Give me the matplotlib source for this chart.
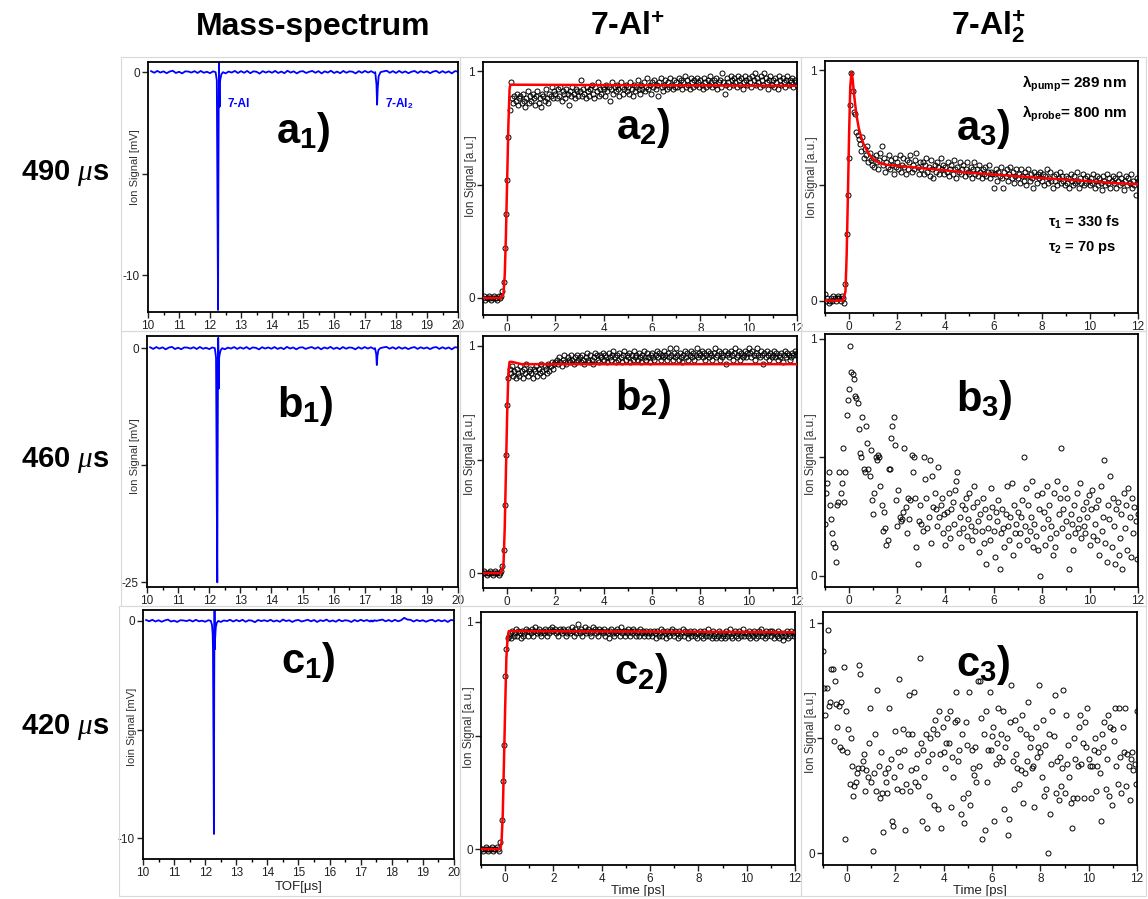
import numpy as np
import matplotlib
matplotlib.use("Agg")
import matplotlib.pyplot as plt
from matplotlib.ticker import MultipleLocator, FixedLocator, FixedFormatter
from matplotlib.patches import Rectangle

# ====== data ======
# pump-probe delay scan (ps), one sample every 0.05 ps
DELAY_PS = np.linspace(-1.0, 12.0, 261)

# ion signal in % of max, 20 values per ps
A2_SIGNAL_PCT = [
    0, 1, -1, 0, 0, 1, 0, -1, 0, 1, 0, 0, -1, 1, 0, 1, 3, 7, 22, 37,
    52, 71, 83, 95, 88, 86, 89, 87, 90, 85, 88, 89, 86, 90, 87, 84, 88, 91, 86, 89,
    87, 90, 88, 85, 89, 91, 86, 88, 84, 90, 89, 87, 92, 88, 86, 90, 89, 93, 88, 91,
    90, 88, 92, 89, 93, 87, 91, 90, 88, 92, 90, 85, 91, 89, 93, 90, 88, 92, 91, 89,
    91, 96, 89, 92, 90, 88, 93, 91, 89, 92, 94, 90, 88, 93, 91, 95, 89, 92, 90, 93,
    92, 89, 94, 91, 93, 87, 92, 95, 90, 93, 91, 94, 92, 89, 95, 93, 90, 92, 94, 91,
    93, 90, 95, 92, 89, 94, 91, 93, 96, 92, 90, 94, 92, 95, 91, 93, 97, 92, 94, 90,
    95, 93, 96, 92, 94, 89, 95, 97, 93, 91, 94, 96, 92, 95, 93, 97, 94, 92, 96, 93,
    95, 93, 97, 94, 96, 92, 95, 98, 93, 96, 94, 92, 97, 95, 93, 96, 94, 97, 95, 93,
    96, 94, 92, 97, 95, 93, 96, 94, 98, 95, 93, 96, 94, 97, 92, 95, 96, 93, 99, 95,
    90, 94, 97, 95, 93, 98, 96, 94, 97, 95, 93, 98, 96, 94, 97, 92, 95, 98, 96, 94,
    97, 95, 93, 98, 96, 99, 94, 97, 95, 93, 98, 96, 94, 99, 97, 95, 92, 96, 98, 94,
    96, 93, 97, 95, 92, 98, 96, 94, 97, 95, 93, 96, 98, 94, 96, 95, 97, 93, 96, 95,
    94,
]
B2_SIGNAL_PCT = [
    0, 1, 0, -1, 0, 0, 1, 0, -1, 0, 1, 0, 0, -1, 0, 1, 3, 10, 30, 52,
    74, 86, 90, 88, 91, 87, 89, 86, 90, 88, 87, 91, 89, 86, 90, 88, 92, 87, 89, 90,
    88, 86, 90, 89, 91, 87, 90, 88, 92, 89, 87, 91, 90, 88, 92, 89, 91, 93, 90, 92,
    93, 94, 92, 95, 93, 91, 94, 96, 93, 92, 95, 94, 93, 96, 94, 92, 95, 93, 96, 94,
    95, 93, 96, 94, 92, 95, 97, 94, 93, 96, 94, 92, 95, 97, 96, 94, 93, 96, 95, 97,
    94, 96, 95, 93, 97, 95, 94, 96, 98, 95, 93, 96, 94, 97, 95, 93, 96, 98, 94, 96,
    95, 97, 93, 96, 94, 98, 95, 96, 94, 97, 95, 93, 96, 98, 95, 94, 97, 95, 93, 96,
    97, 95, 94, 96, 98, 95, 97, 94, 96, 95, 98, 96, 94, 97, 95, 99, 96, 94, 97, 95,
    99, 96, 94, 97, 95, 93, 96, 98, 95, 97, 94, 96, 98, 95, 97, 94, 96, 99, 95, 97,
    96, 98, 95, 97, 94, 96, 98, 95, 97, 96, 94, 97, 99, 95, 96, 98, 94, 97, 95, 96,
    98, 92, 96, 97, 95, 98, 96, 94, 97, 99, 95, 96, 98, 94, 97, 95, 96, 98, 95, 97,
    99, 97, 95, 98, 96, 94, 97, 99, 96, 95, 98, 96, 92, 97, 95, 98, 96, 94, 97, 95,
    96, 98, 95, 97, 94, 96, 95, 97, 93, 96, 98, 95, 97, 96, 94, 95, 97, 96, 98, 96,
    97,
]
C2_SIGNAL_PCT = [
    0, 0, -1, 0, 1, 0, -1, 0, 0, 1, -1, 0, 0, 1, 0, -1, 3, 13, 30, 46,
    76, 88, 93, 94, 95, 93, 96, 94, 95, 97, 94, 96, 95, 93, 96, 94, 95, 97, 96, 94,
    96, 95, 97, 94, 96, 98, 95, 96, 97, 95, 94, 96, 95, 97, 96, 94, 95, 97, 96, 98,
    96, 97, 95, 96, 94, 97, 96, 95, 97, 96, 94, 95, 97, 96, 95, 98, 96, 94, 97, 95,
    99, 96, 95, 97, 94, 96, 98, 95, 96, 97, 95, 94, 96, 98, 97, 95, 96, 94, 97, 96,
    96, 95, 97, 94, 96, 95, 93, 96, 97, 95, 94, 96, 95, 97, 96, 94, 98, 95, 96, 94,
    96, 95, 97, 94, 96, 95, 97, 96, 94, 95, 96, 94, 97, 95, 96, 94, 95, 96, 94, 95,
    96, 95, 94, 96, 95, 93, 96, 94, 95, 97, 94, 96, 95, 93, 96, 95, 94, 96, 97, 95,
    94, 96, 95, 93, 96, 94, 95, 97, 94, 96, 95, 93, 95, 96, 94, 95, 96, 94, 95, 93,
    95, 96, 94, 95, 93, 96, 94, 95, 97, 94, 95, 93, 96, 94, 95, 93, 94, 96, 95, 93,
    94, 95, 93, 96, 94, 95, 97, 94, 93, 95, 96, 94, 95, 93, 96, 94, 95, 97, 94, 95,
    95, 94, 96, 93, 95, 94, 96, 95, 93, 94, 96, 95, 97, 94, 95, 93, 96, 94, 95, 96,
    94, 96, 95, 93, 95, 94, 96, 93, 95, 94, 92, 95, 94, 96, 93, 95, 94, 96, 95, 94,
    95,
]
A3_SIGNAL_PCT = [
    3, 0, 1, -1, 0, 1, 0, 2, 1, 0, 1, 2, 1, 0, 2, 1, -1, 7, 29, 46,
    62, 85, 99, 91, 82, 81, 73, 72, 70, 68, 65, 71, 62, 66, 63, 67, 60, 64, 61, 59,
    62, 58, 63, 60, 57, 61, 64, 67, 59, 62, 56, 60, 58, 63, 57, 61, 59, 55, 62, 58,
    60, 57, 63, 56, 59, 62, 58, 55, 61, 57, 60, 63, 56, 59, 57, 61, 64, 58, 55, 60,
    57, 60, 55, 59, 62, 56, 58, 54, 61, 57, 53, 59, 56, 60, 58, 55, 62, 57, 59, 55,
    58, 56, 60, 54, 57, 59, 55, 61, 57, 53, 58, 56, 60, 55, 57, 59, 54, 57, 60, 56,
    55, 58, 53, 57, 60, 55, 57, 54, 59, 56, 53, 57, 55, 58, 54, 56, 59, 53, 56, 55,
    49, 55, 57, 52, 56, 54, 58, 53, 49, 56, 54, 57, 52, 55, 58, 53, 56, 51, 54, 57,
    53, 55, 51, 57, 54, 52, 56, 50, 54, 57, 52, 55, 53, 49, 56, 54, 51, 55, 53, 56,
    52, 55, 50, 54, 57, 51, 53, 56, 52, 49, 54, 52, 55, 50, 53, 56, 51, 54, 52, 50,
    54, 51, 53, 49, 55, 52, 50, 54, 51, 56, 52, 49, 53, 51, 55, 50, 53, 51, 54, 52,
    50, 53, 51, 55, 49, 52, 54, 50, 53, 51, 48, 54, 52, 50, 55, 51, 53, 49, 52, 54,
    51, 53, 49, 52, 55, 50, 53, 51, 48, 52, 54, 50, 53, 51, 55, 49, 52, 50, 46, 53,
    52,
]
B3_SIGNAL_PCT = [
    22, 35, 39, 44, 30, 24, 18, 14, 12, 6, 30, 31, 44, 35, 39, 54, 31, 44, 68, 74,
    79, 97, 86, 85, 83, 76, 75, 73, 62, 52, 50, 67, 45, 44, 63, 56, 45, 42, 53, 32,
    26, 35, 50, 49, 51, 50, 38, 30, 19, 27, 20, 13, 15, 45, 45, 58, 63, 67, 55, 32,
    21, 36, 25, 23, 24, 27, 54, 29, 18, 33, 24, 32, 51, 44, 50, 33, 12, 5, 23, 30,
    22, 19, 50, 41, 33, 20, 25, 49, 14, 42, 29, 35, 28, 21, 46, 25, 30, 33, 18, 26,
    13, 27, 20, 35, 16, 28, 31, 22, 36, 40, 44, 18, 25, 12, 30, 20, 28, 33, 17, 24,
    35, 21, 15, 29, 38, 19, 31, 23, 10, 26, 19, 33, 14, 28, 5, 20, 25, 15, 37, 29,
    19, 8, 27, 23, 32, 3, 18, 28, 20, 12, 26, 38, 21, 15, 25, 39, 9, 30, 18, 22,
    27, 13, 18, 25, 32, 50, 21, 37, 15, 30, 19, 25, 40, 12, 22, 17, 34, 11, 28, 0,
    35, 20, 27, 13, 38, 24, 30, 16, 21, 9, 35, 12, 18, 40, 26, 33, 54, 20, 28, 37,
    23, 33, 17, 3, 26, 22, 11, 30, 18, 35, 20, 24, 39, 16, 28, 21, 18, 31, 25, 34,
    13, 28, 36, 17, 22, 29, 15, 32, 9, 38, 19, 25, 49, 14, 6, 30, 24, 42, 12, 33,
    21, 5, 28, 31, 9, 16, 26, 3, 35, 20, 30, 11, 37, 25, 8, 33, 18, 29, 23, 7,
    26,
]
C3_SIGNAL_PCT = [
    88, 72, 60, 72, 97, 64, 66, 80, 80, 49, 75, 65, 55, 64, 46, 66, 45, 81, 6, 62,
    44, 54, 30, 50, 38, 25, 29, 31, 35, 37, 82, 78, 37, 40, 43, 27, 36, 33, 48, 63,
    31, 1, 35, 52, 27, 71, 38, 24, 44, 26, 9, 35, 31, 26, 37, 63, 41, 14, 12, 33,
    53, 28, 44, 76, 38, 27, 54, 45, 10, 30, 52, 69, 27, 36, 52, 70, 31, 37, 43, 29,
    85, 48, 14, 45, 33, 52, 11, 40, 25, 50, 43, 54, 21, 58, 52, 19, 62, 43, 11, 55,
    44, 37, 48, 59, 48, 62, 20, 42, 33, 57, 70, 58, 40, 45, 17, 52, 24, 13, 57, 47,
    26, 70, 21, 45, 37, 34, 46, 31, 75, 38, 75, 59, 6, 52, 10, 62, 31, 45, 70, 45,
    51, 55, 14, 39, 48, 63, 42, 52, 40, 62, 19, 46, 50, 8, 15, 57, 73, 40, 28, 58,
    43, 37, 30, 54, 36, 60, 22, 35, 52, 40, 66, 46, 50, 37, 38, 20, 55, 42, 46, 73,
    44, 33, 58, 25, 47, 28, 0, 52, 17, 39, 62, 51, 69, 26, 40, 23, 42, 29, 37, 71,
    26, 60, 39, 47, 33, 22, 11, 24, 50, 41, 24, 38, 55, 60, 39, 48, 24, 57, 46, 63,
    41, 38, 24, 38, 45, 50, 27, 38, 44, 35, 14, 52, 46, 57, 28, 41, 60, 25, 55, 21,
    54, 49, 63, 38, 30, 63, 42, 26, 55, 44, 63, 29, 43, 38, 23, 41, 44, 36, 39, 30,
    62,
]

A2_FIT_T = [-1, -0.25, -0.15, -0.1, -0.05, 0, 0.05, 0.1, 0.13, 12]
A2_FIT_Y = [0, 0, 0.02, 0.10, 0.28, 0.52, 0.76, 0.92, 0.94, 0.935]
B2_FIT_T = [-1, -0.25, -0.15, -0.1, -0.05, 0, 0.05, 0.1, 0.2, 0.6, 12]
B2_FIT_Y = [0, 0, 0.04, 0.20, 0.45, 0.70, 0.88, 0.93, 0.93, 0.92, 0.92]
C2_FIT_T = [-1, -0.2, -0.15, -0.1, -0.05, 0, 0.05, 0.1, 0.15, 12]
C2_FIT_Y = [0, 0, 0.03, 0.15, 0.38, 0.62, 0.84, 0.93, 0.96, 0.955]
A3_FIT_T = [-1, -0.25, -0.15, -0.1, -0.05, 0, 0.05, 0.1, 0.15, 0.2, 0.3, 0.4, 0.5,
            0.6, 0.8, 1.0, 1.2, 1.5, 2, 3, 4, 5, 6, 7, 8, 9, 10, 11, 12]
A3_FIT_Y = [0, 0, 0.04, 0.20, 0.45, 0.72, 0.93, 0.99, 0.96, 0.90, 0.81, 0.75, 0.71,
            0.68, 0.64, 0.615, 0.60, 0.59, 0.585, 0.575, 0.565, 0.555, 0.547, 0.54,
            0.532, 0.525, 0.518, 0.51, 0.505]

# mass spectra: baseline every 0.1 us (in 0.01 mV) + the two peaks (mV)
MS_TOF = np.round(np.arange(10.1, 20.05, 0.1), 2)
A1_BASE = [
    5, -3, 6, -2, 4, -5, 3, 7, -4, 2, -6, 4, 3, -2, 5, -4, 6, -3, 2, -5,
    4, 8, -3, 5, -6, 3, -2, 6, -4, 5, -3, 6, -5, 4, 2, -7, 5, -2, 4, -3,
    6, -4, 3, -5, 7, -2, 4, -6, 3, 5, -4, 2, 6, -3, 5, -6, 4, -2, 7, -4,
    3, -5, 6, -3, 4, 2, -6, 5, -3, 6, -2, 5, -4, 3, -6, 4, 7, -3, 5, -4,
    6, -3, 4, -5, 2, 6, -4, 5, -2, 4, -5, 3, 6, -4, 5, -3, 4, -6, 5, 3,
]
B1_BASE = [
    10, -8, 12, -5, 9, -12, 6, 14, -9, 5, -11, 8, 6, -4, 10, -9, 13, -6, 4, -10,
    8, 15, -6, 10, -12, 6, -4, 12, -8, 9, -6, 12, -10, 8, 4, -13, 10, -4, 8, -6,
    12, -8, 6, -10, 14, -4, 8, -12, 6, 10, -8, 4, 12, -6, 10, -12, 8, -4, 14, -8,
    6, -10, 12, -6, 8, 4, -12, 10, -6, 12, -4, 10, -8, 6, -12, 8, 14, -6, 10, -8,
    12, -6, 8, -10, 4, 12, -8, 10, -4, 8, -10, 6, 12, -8, 10, -6, 8, -12, 10, 6,
]
C1_BASE = [
    4, -2, 5, -3, 3, -4, 2, 6, -3, 1, -5, 3, 2, -1, 4, -3, 5, -2, 1, -4,
    3, 7, -2, 4, -5, 2, -1, 5, -3, 4, -2, 5, -4, 3, 1, -6, 4, -1, 3, -2,
    5, -3, 2, -4, 6, -1, 3, -5, 2, 4, -3, 1, 5, -2, 4, -5, 3, -1, 6, -3,
    2, -4, 5, -2, 3, 1, -5, 4, -2, 5, -1, 4, -3, 2, -5, 3, 6, -2, 4, -3,
    5, -2, 3, 14, 6, 5, -3, 4, -1, 3, -4, 2, 5, -3, 4, -2, 3, -5, 4, 2,
]
AL_PEAK_TOF = [12.18, 12.22, 12.24, 12.25, 12.26, 12.27, 12.28, 12.29, 12.30,
               12.31, 12.32, 12.34, 12.37, 12.42]
A1_AL_PEAK = [0.0, -0.4, -6.3, -9.0, -11.7, -6.0, -2.0, 0.5, -0.8, -1.7, -0.5, -0.3, -0.1, 0.0]
B1_AL_PEAK = [0.0, -1.0, -13.5, -20.0, -25.0, -13.0, -4.0, 1.1, -2.0, -4.3, -1.0, -0.6, -0.2, 0.0]
C1_AL_PEAK = [0.0, -0.2, -0.6, -1.3, -4.0, -6.5, -9.8, -3.0, 0.5, -1.3, -0.8, -0.3, -0.1, 0.0]
AL2_PEAK_TOF = [17.33, 17.37, 17.39, 17.41, 17.44, 17.50]
A1_AL2_PEAK = [0.0, -0.6, -1.6, -0.8, -0.2, 0.0]
B1_AL2_PEAK = [0.0, -0.6, -1.8, -0.8, -0.2, 0.0]
C1_AL2_PEAK = [0.02, -0.03, 0.01, -0.02, 0.03, 0.0]

for name, vals in [("A2", A2_SIGNAL_PCT), ("B2", B2_SIGNAL_PCT), ("C2", C2_SIGNAL_PCT),
                   ("A3", A3_SIGNAL_PCT), ("B3", B3_SIGNAL_PCT), ("C3", C3_SIGNAL_PCT)]:
    assert len(vals) == len(DELAY_PS), (name, len(vals))

# ====== style ======
plt.rcParams.update({
    "font.family": ["Liberation Sans", "DejaVu Sans"],
    "mathtext.fontset": "custom",
    "mathtext.rm": "Liberation Sans",
    "mathtext.it": "Liberation Serif:italic",
    "mathtext.bf": "Liberation Sans:bold",
    "axes.linewidth": 1.3,
})

W, H = 1148, 899
fig = plt.figure(figsize=(W / 100, H / 100), dpi=100)


def px_axes(l, t, r, b):
    return fig.add_axes([l / W, 1 - b / H, (r - l) / W, (b - t) / H])


def px_box(l, t, r, b):
    fig.add_artist(Rectangle((l / W, 1 - b / H), (r - l) / W, (b - t) / H,
                             transform=fig.transFigure, fill=False,
                             ec="#d9d9d9", lw=0.8))


def style_axes(ax, xlim, ylim, xmajor, xminor, yticks, ylabels):
    ax.set_xlim(*xlim)
    ax.set_ylim(*ylim)
    ax.xaxis.set_major_locator(MultipleLocator(xmajor))
    ax.xaxis.set_minor_locator(MultipleLocator(xminor))
    ax.yaxis.set_major_locator(FixedLocator(yticks))
    ax.yaxis.set_major_formatter(FixedFormatter(ylabels))
    ax.tick_params(direction="out", length=4, width=1, labelsize=8.5, pad=2,
                   colors="#222222")
    ax.tick_params(which="minor", direction="out", length=2.5, width=1)


def ms_trace(base, al_peak, al2_peak):
    base = np.array(base) / 100
    t1, t2 = np.array(AL_PEAK_TOF), np.array(AL2_PEAK_TOF)
    keep = ~(((MS_TOF >= t1[0]) & (MS_TOF <= t1[-1])) |
             ((MS_TOF >= t2[0]) & (MS_TOF <= t2[-1])))
    tof = np.concatenate([MS_TOF[keep], t1, t2])
    sig = np.concatenate([base[keep], al_peak, al2_peak])
    order = np.argsort(tof)
    return tof[order], sig[order]


def panel_label(ax, x, y, letter, idx):
    ax.text(x, y, letter + r"$_{\mathbf{%d}}$)" % idx, transform=ax.transAxes,
            ha="center", va="center", fontsize=30, fontweight="bold")


# faint frames of the pasted panels
for (l, r) in [(121, 460), (460, 801), (801, 1146)]:
    px_box(l, 57, r, 331)
    px_box(l, 331, r, 606)
    px_box(l - 2 if l == 121 else l, 606, r, 896)

# ====== column 1: mass spectra ======
ms_rows = [
    ((148, 62, 458, 312), A1_BASE, A1_AL_PEAK, A1_AL2_PEAK, (-11.8, 0.5), [0, -5, -10],
     ["0", "", "-10"], "Ion Signal [mV]", (-0.026, 0.58), (0.5, 0.72), "a"),
    ((147, 336, 458, 587), B1_BASE, B1_AL_PEAK, B1_AL2_PEAK, (-25.5, 1.3), [0, -12.5, -25],
     ["0", "", "-25"], "Ion Signal [mV]", (-0.023, 0.52), (0.51, 0.72), "b"),
    ((143, 610, 454, 859), C1_BASE, C1_AL_PEAK, C1_AL2_PEAK, (-10.95, 0.5), [0, -5, -10],
     ["0", "", "-10"], "Ioin Signal [mV]", (-0.02, 0.53), (0.53, 0.79), "c"),
]
for k, (box, base, p1, p2, ylim, yt, yl, ylab, ylpos, lpos, letter) in enumerate(ms_rows):
    ax = px_axes(*box)
    tof, sig = ms_trace(base, p1, p2)
    ax.plot(tof, sig, color="#0000ff", lw=1.3)
    style_axes(ax, (10, 20), ylim, 1, 0.5, yt, yl)
    ax.set_ylabel(ylab, fontsize=8, color="#333333")
    ax.yaxis.set_label_coords(*ylpos)
    panel_label(ax, lpos[0], lpos[1], letter, 1)
    if k == 0:
        ax.text(12.58, -1.55, "7-Al", color="#0000ff", fontsize=8.5,
                fontweight="bold", va="center")
        ax.text(17.65, -1.55, r"7-Al$_{\mathbf{2}}$", color="#0000ff", fontsize=8.5,
                fontweight="bold", va="center")
    if k == 2:
        ax.set_xlabel("TOF[μs]", fontsize=9.5, color="#222222")
        ax.xaxis.set_label_coords(0.5, -0.09)

# ====== columns 2 and 3: transients ======
tr_panels = [
    ((483, 62, 797, 315), A2_SIGNAL_PCT, A2_FIT_T, A2_FIT_Y, (-0.075, 1.04), (-0.019, 0.55), (0.51, 0.74), "a", 2),
    ((483, 336, 797, 588), B2_SIGNAL_PCT, B2_FIT_T, B2_FIT_Y, (-0.066, 1.044), (-0.022, 0.53), (0.51, 0.75), "b", 2),
    ((481, 612, 795, 865), C2_SIGNAL_PCT, C2_FIT_T, C2_FIT_Y, (-0.07, 1.044), (-0.019, 0.545), (0.51, 0.76), "c", 2),
    ((825, 61, 1138, 313), A3_SIGNAL_PCT, A3_FIT_T, A3_FIT_Y, (-0.054, 1.04), (-0.022, 0.54), (0.505, 0.73), "a", 3),
    ((825, 334, 1138, 587), B3_SIGNAL_PCT, None, None, (-0.047, 1.02), (-0.024, 0.525), (0.51, 0.74), "b", 3),
    ((823, 612, 1137, 865), C3_SIGNAL_PCT, None, None, (-0.052, 1.05), (-0.019, 0.525), (0.51, 0.79), "c", 3),
]
axes3 = {}
for box, sig_pct, ft, fy, ylim, ylpos, lpos, letter, col in tr_panels:
    ax = px_axes(*box)
    ax.plot(DELAY_PS, np.array(sig_pct) / 100, "o", ms=3.6, mfc="none",
            mec="black", mew=0.7, zorder=2)
    if ft is not None:
        ax.plot(ft, fy, color="#ff0000", lw=1.8, zorder=3)
    style_axes(ax, (-1, 12), ylim, 2, 1, [0, 0.5, 1], ["0", "", "1"])
    ax.set_ylabel("Ion Signal [a.u.]", fontsize=8.5, color="#333333")
    ax.yaxis.set_label_coords(*ylpos)
    panel_label(ax, lpos[0], lpos[1], letter, col)
    if letter == "c":
        ax.set_xlabel("Time [ps]", fontsize=9.5, color="#222222")
        ax.xaxis.set_label_coords(0.5, -0.079)
    axes3[(letter, col)] = ax

ax = axes3[("a", 3)]
ax.text(0.628, 0.91, r"λ$_{\mathbf{pump}}$= 289 nm", transform=ax.transAxes,
        ha="left", va="center", fontsize=11, fontweight="bold")
ax.text(0.628, 0.79, r"λ$_{\mathbf{probe}}$= 800 nm", transform=ax.transAxes,
        ha="left", va="center", fontsize=11, fontweight="bold")
ax.text(0.712, 0.36, r"τ$_{\mathbf{1}}$ = 330 fs", transform=ax.transAxes,
        ha="left", va="center", fontsize=10.5, fontweight="bold")
ax.text(0.712, 0.26, r"τ$_{\mathbf{2}}$ = 70 ps", transform=ax.transAxes,
        ha="left", va="center", fontsize=10.5, fontweight="bold")

# ====== headers and row labels ======
fig.text(313 / W, 1 - 27 / H, "Mass-spectrum", ha="center", va="center",
         fontsize=23, fontweight="bold")
fig.text(627 / W, 1 - 27 / H, r"7-Al$^{\mathbf{+}}$", ha="center", va="center",
         fontsize=23, fontweight="bold")
fig.text(988 / W, 1 - 27 / H, r"7-Al$_{\mathbf{2}}^{\mathbf{+}}$", ha="center",
         va="center", fontsize=23, fontweight="bold")
for label, ypx in [("490", 173), ("460", 460), ("420", 727)]:
    fig.text(65 / W, 1 - ypx / H, label + r" $\mu$s", ha="center", va="center",
             fontsize=21, fontweight="bold")

fig.savefig("out.png", dpi=100)
